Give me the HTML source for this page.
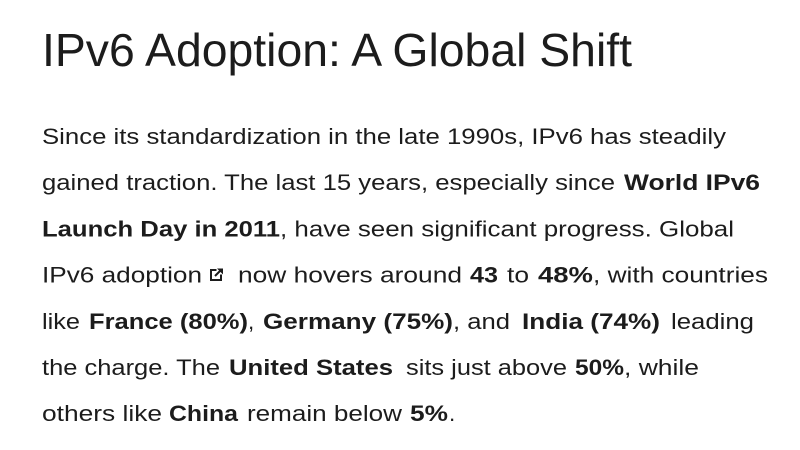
<!DOCTYPE html>
<html>
<head>
<meta charset="utf-8">
<style>
  html, body { margin:0; padding:0; background:#ffffff; }
  body { width:800px; height:450px; overflow:hidden; }
  svg { display:block; }
  text { font-family:"Liberation Sans", Arial, sans-serif; fill:#1c1c1c; }
  .t { font-size:46px; }
  .r { font-size:22.5px; }
  .b { font-size:22.5px; font-weight:bold; }
</style>
</head>
<body>
<svg width="800" height="450" viewBox="0 0 800 450" xmlns="http://www.w3.org/2000/svg">
  <rect width="800" height="450" fill="#ffffff"/>
  <text class="t" x="42" y="66" textLength="590" lengthAdjust="spacingAndGlyphs">IPv6 Adoption: A Global Shift</text>

  <!-- line 1 -->
  <text class="r" x="42" y="144" textLength="684" lengthAdjust="spacingAndGlyphs">Since its standardization in the late 1990s, IPv6 has steadily</text>

  <!-- line 2 -->
  <text class="r" x="42" y="190.2" textLength="573" lengthAdjust="spacingAndGlyphs">gained traction. The last 15 years, especially since</text>
  <text class="b" x="624" y="190.2" textLength="136" lengthAdjust="spacingAndGlyphs">World IPv6</text>

  <!-- line 3 -->
  <text class="b" x="42" y="236.4" textLength="238" lengthAdjust="spacingAndGlyphs">Launch Day in 2011</text>
  <text class="r" x="280" y="236.4" textLength="454" lengthAdjust="spacingAndGlyphs">, have seen significant progress. Global</text>

  <!-- line 4 -->
  <text class="r" x="42" y="282.6" textLength="160" lengthAdjust="spacingAndGlyphs">IPv6 adoption</text>
  <g fill="none" stroke="#1c1c1c" stroke-width="2">
    <path d="M216.5 270 H211 V280 H221 V274.5"/>
    <path d="M215 276 L221.5 269.5"/>
  </g>
  <path d="M217 268.5 H223 V274.5 Z" fill="#1c1c1c"/>
  <text class="r" x="238" y="282.6" textLength="224" lengthAdjust="spacingAndGlyphs">now hovers around</text>
  <text class="b" x="470" y="282.6" textLength="28" lengthAdjust="spacingAndGlyphs">43</text>
  <text class="r" x="507" y="282.6" textLength="22" lengthAdjust="spacingAndGlyphs">to</text>
  <text class="b" x="538" y="282.6" textLength="55" lengthAdjust="spacingAndGlyphs">48%</text>
  <text class="r" x="593" y="282.6" textLength="175" lengthAdjust="spacingAndGlyphs">, with countries</text>

  <!-- line 5 -->
  <text class="r" x="42" y="328.8" textLength="38" lengthAdjust="spacingAndGlyphs">like</text>
  <text class="b" x="89" y="328.8" textLength="159" lengthAdjust="spacingAndGlyphs">France (80%)</text>
  <text class="r" x="248" y="328.8">,</text>
  <text class="b" x="263" y="328.8" textLength="190" lengthAdjust="spacingAndGlyphs">Germany (75%)</text>
  <text class="r" x="453" y="328.8" textLength="57" lengthAdjust="spacingAndGlyphs">, and</text>
  <text class="b" x="522" y="328.8" textLength="138" lengthAdjust="spacingAndGlyphs">India (74%)</text>
  <text class="r" x="671" y="328.8" textLength="83" lengthAdjust="spacingAndGlyphs">leading</text>

  <!-- line 6 -->
  <text class="r" x="42" y="375" textLength="178" lengthAdjust="spacingAndGlyphs">the charge. The</text>
  <text class="b" x="229" y="375" textLength="164" lengthAdjust="spacingAndGlyphs">United States</text>
  <text class="r" x="406" y="375" textLength="161" lengthAdjust="spacingAndGlyphs">sits just above</text>
  <text class="b" x="575" y="375" textLength="49" lengthAdjust="spacingAndGlyphs">50%</text>
  <text class="r" x="624" y="375" textLength="75" lengthAdjust="spacingAndGlyphs">, while</text>

  <!-- line 7 -->
  <text class="r" x="42" y="421.2" textLength="120" lengthAdjust="spacingAndGlyphs">others like</text>
  <text class="b" x="169" y="421.2" textLength="69" lengthAdjust="spacingAndGlyphs">China</text>
  <text class="r" x="247" y="421.2" textLength="155" lengthAdjust="spacingAndGlyphs">remain below</text>
  <text class="b" x="410" y="421.2" textLength="38" lengthAdjust="spacingAndGlyphs">5%</text>
  <text class="r" x="449" y="421.2">.</text>
</svg>
</body>
</html>
